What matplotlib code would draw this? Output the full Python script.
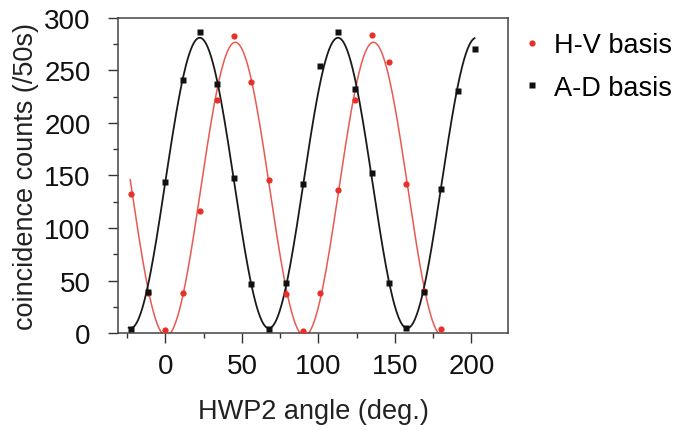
import numpy as np
import matplotlib
matplotlib.use("Agg")
import matplotlib.pyplot as plt
from matplotlib.ticker import MultipleLocator

# ---- data ----
hv_angle = [-22.5, -11.25, 0, 11.25, 22.5, 33.75, 45, 56.25, 67.5, 78.75,
            90, 101.25, 112.5, 123.75, 135, 146.25, 157.5, 168.75, 180]
hv_counts = [132, 38, 3, 38, 116, 222, 283, 239, 146, 37,
             2, 38, 136, 222, 284, 258, 142, 40, 4]

ad_angle = [-22.5, -11.25, 0, 11.25, 22.5, 33.75, 45, 56.25, 67.5, 78.75,
            90, 101.25, 112.5, 123.75, 135, 146.25, 157.5, 168.75, 180,
            191.25, 202.5]
ad_counts = [4, 39, 144, 241, 287, 237, 148, 47, 4, 48,
             142, 254, 287, 232, 152, 48, 5, 39, 137,
             230, 270]

hv_fit_range = (-23, 180)
ad_fit_range = (-24, 202)

x_ticks = [0, 50, 100, 150, 200]
y_ticks = [0, 50, 100, 150, 200, 250, 300]


def sin_fit(x, y, xs):
    """Least-squares sinusoid fit (offset + cos + sin) with period scan."""
    x = np.asarray(x, float)
    y = np.asarray(y, float)
    best = None
    for period in np.linspace(80, 100, 401):
        k = 2 * np.pi / period
        A = np.column_stack([np.ones_like(x), np.cos(k * x), np.sin(k * x)])
        coef, *_ = np.linalg.lstsq(A, y, rcond=None)
        err = np.sum((A @ coef - y) ** 2)
        if best is None or err < best[0]:
            best = (err, k, coef)
    _, k, c = best
    return c[0] + c[1] * np.cos(k * xs) + c[2] * np.sin(k * xs)


plt.rcParams['font.family'] = ['Liberation Sans', 'DejaVu Sans']

fig = plt.figure(figsize=(6.74, 4.31), dpi=100)
ax = fig.add_axes([0.175, 0.225, 0.579, 0.731])

red = '#e8302a'
xs_hv = np.linspace(*hv_fit_range, 600)
xs_ad = np.linspace(*ad_fit_range, 600)
ax.plot(xs_hv, sin_fit(hv_angle, hv_counts, xs_hv), color='#e85a50', lw=1.1, zorder=2)
ax.plot(xs_ad, sin_fit(ad_angle, ad_counts, xs_ad), color='#1a1a1a', lw=1.3, zorder=3)
ax.plot(hv_angle, hv_counts, 'o', color=red, ms=4.5, mec='none', zorder=4,
        label='H-V basis')
ax.plot(ad_angle, ad_counts, 's', color='#111111', ms=4.2, mec='none', zorder=5,
        label='A-D basis')

ax.set_xlim(-31, 224)
ax.set_ylim(0, 300)
ax.set_xticks(x_ticks)
ax.set_yticks(y_ticks)
ax.xaxis.set_minor_locator(MultipleLocator(25))
ax.yaxis.set_minor_locator(MultipleLocator(25))
ax.tick_params(which='major', direction='out', length=7.5, width=1, labelsize=20,
               top=False, right=False, colors='#333333', labelcolor='#111111')
ax.tick_params(which='minor', direction='out', length=3.75, width=1,
               top=False, right=False, colors='#333333')
ax.tick_params(axis='y', which='major', pad=12)
ax.tick_params(axis='x', which='major', pad=7)
for s in ax.spines.values():
    s.set_color('#444444')
    s.set_linewidth(1.1)

ax.set_xlabel('HWP2 angle (deg.)', fontsize=19.5, color='#222222')
ax.set_ylabel('coincidence counts (/50s)', fontsize=19.5, color='#222222')
ax.xaxis.set_label_coords(0.5, -0.205)
ax.yaxis.set_label_coords(-0.203, 0.5)

leg = ax.legend(loc='upper left', bbox_to_anchor=(1.013, 0.989), frameon=False,
                fontsize=19.5, handlelength=0.6, handletextpad=0.5,
                labelspacing=0.61, borderaxespad=0, markerscale=1.0)

fig.savefig('out.png', dpi=100)
